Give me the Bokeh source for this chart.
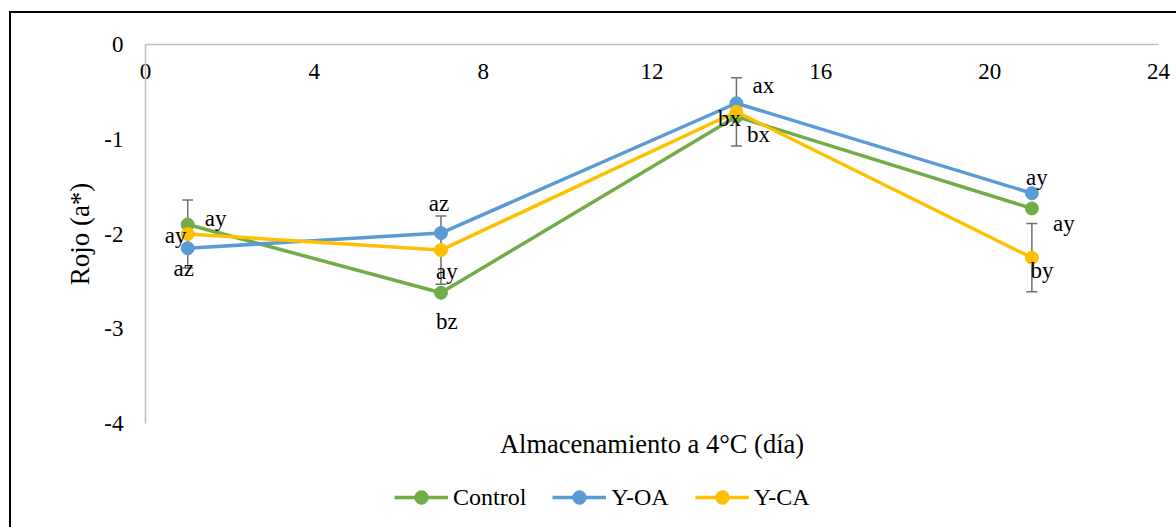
from bokeh.plotting import figure
from bokeh.layouts import column
from bokeh.models import (Range1d, LinearAxis, FixedTicker, Whisker, ColumnDataSource,
                          Legend, LegendItem, Title, TeeHead)
from bokeh.core.properties import value
from bokeh.embed import file_html
from bokeh.resources import INLINE

# Storage days and a* (red) values per treatment
days = [1, 7, 14, 21]
control = [-1.90, -2.62, -0.76, -1.73]
y_oa = [-2.15, -1.99, -0.62, -1.57]
y_ca = [-2.00, -2.17, -0.71, -2.25]
y_ca_err = [0.36, 0.36, 0.36, 0.36]

# Significance letters per treatment and day
control_letters = ["ay", "bz", "bx", "ay"]
y_oa_letters = ["az", "az", "ax", "ay"]
y_ca_letters = ["ay", "ay", "bx", "by"]

x_ticks = [0, 4, 8, 12, 16, 20, 24]
y_ticks = [0, -1, -2, -3, -4]
y_tick_labels = ["0", "-1", "-2", "-3", "-4"]

# Letter placement around each marker (screen pixels)
control_dx = [28, 6, 22, 32]
control_dy = [-6, 29, 18, 15]
y_oa_dx = [-4, -2, 27, 5]
y_oa_dy = [20, -30, -18, -16]
y_ca_dx = [-12, 6, -7, 10]
y_ca_dy = [1, 21, 7, 13]

FONT = "Liberation Serif"
QFONT = "'Liberation Serif'"
GREEN, BLUE, YELLOW = "#70AD47", "#5B9BD5", "#FFC000"

# page offset of the chart box (its black left/top edges)
OX, OY = 9, 11
W = 1176 - OX
MAIN_H = 470 - OY
LEG_H = 527 - 470

p = figure(width=W, height=MAIN_H, output_backend="svg", toolbar_location=None,
           x_range=Range1d(0, 24), y_range=Range1d(-4, 0),
           x_axis_type=None, y_axis_type=None,
           min_border_left=145 - OX, min_border_right=18,
           min_border_top=44 - OY, min_border_bottom=MAIN_H - (423 - OY))
p.outline_line_color = None
p.background_fill_color = "white"
p.border_fill_alpha = 0

# x axis sits on the y = 0 line, labels hang inside the plot area
xaxis = LinearAxis(ticker=FixedTicker(ticks=x_ticks),
                   axis_line_color="#BFBFBF", axis_line_width=1.5,
                   major_tick_line_color=None, minor_tick_line_color=None,
                   major_label_standoff=-40,
                   major_label_text_font=QFONT, major_label_text_font_size="23px",
                   major_label_text_color="black")
p.add_layout(xaxis, "above")

yaxis = LinearAxis(ticker=FixedTicker(ticks=y_ticks),
                   major_label_overrides={t: s for t, s in zip(y_ticks, y_tick_labels)},
                   axis_line_color="#BFBFBF", axis_line_width=1.5,
                   major_tick_line_color=None, minor_tick_line_color=None,
                   major_label_standoff=16,
                   major_label_text_font=QFONT, major_label_text_font_size="23px",
                   major_label_text_color="black",
                   axis_label="Rojo (a*)", axis_label_standoff=6,
                   axis_label_text_font=QFONT, axis_label_text_font_size="27px",
                   axis_label_text_font_style="normal", axis_label_text_color="black")
p.add_layout(yaxis, "left")

# Error bars for Y-CA
err_src = ColumnDataSource(data=dict(
    x=days,
    upper=[v + e for v, e in zip(y_ca, y_ca_err)],
    lower=[v - e for v, e in zip(y_ca, y_ca_err)],
))
whisk = Whisker(source=err_src, base="x", upper="upper", lower="lower",
                line_color="#707070", line_width=1.5,
                upper_head=TeeHead(size=11, line_color="#707070", line_width=1.5),
                lower_head=TeeHead(size=11, line_color="#707070", line_width=1.5),
                level="underlay")
p.add_layout(whisk)

series = [
    ("Control", control, GREEN, control_letters, control_dx, control_dy),
    ("Y-OA", y_oa, BLUE, y_oa_letters, y_oa_dx, y_oa_dy),
    ("Y-CA", y_ca, YELLOW, y_ca_letters, y_ca_dx, y_ca_dy),
]

sources = []
for name, vals, color, letters, dx, dy in series:
    src = ColumnDataSource(data=dict(x=days, y=vals))
    sources.append(src)
    p.line("x", "y", source=src, line_color=color, line_width=3.5)
    p.scatter("x", "y", source=src, size=13, fill_color=color, line_color=color)

for name, vals, color, letters, dx, dy in series:
    lsrc = ColumnDataSource(data=dict(x=days, y=vals, t=letters, dx=dx, dy=dy))
    p.text("x", "y", text="t", x_offset="dx", y_offset="dy", source=lsrc,
           text_font=value(FONT), text_font_size="23px", text_color="black",
           text_align="center", text_baseline="middle")

xtitle = Title(text="Almacenamiento a 4°C (día)", align="center", standoff=7,
               text_font=FONT, text_font_size="26.5px", text_font_style="normal",
               text_color="black")
p.add_layout(xtitle, "below")

# Legend strip under the chart: key renderers share the series data but stay hidden
pl = figure(width=W, height=LEG_H, output_backend="svg", toolbar_location=None,
            x_range=Range1d(0, 24), y_range=Range1d(-4, 0),
            x_axis_type=None, y_axis_type=None,
            min_border_left=0, min_border_right=0, min_border_top=0, min_border_bottom=0)
pl.outline_line_color = None
pl.grid.visible = False
pl.background_fill_alpha = 0
pl.border_fill_alpha = 0

items = []
for (name, vals, color, letters, dx, dy), src in zip(series, sources):
    ln = pl.line("x", "y", source=src, line_color=color, line_width=3.5, visible=False)
    sc = pl.scatter("x", "y", source=src, size=13, fill_color=color, line_color=color,
                    visible=False)
    items.append(LegendItem(label=name, renderers=[ln, sc]))

legend = Legend(items=items, orientation="horizontal", location=(394 - 145, 527 - 514),
                glyph_width=54, glyph_height=34, label_standoff=5, spacing=26,
                padding=0, margin=0, border_line_color=None, background_fill_alpha=0,
                inactive_fill_alpha=0,
                label_text_font=QFONT, label_text_font_size="24px",
                label_text_color="black")
pl.add_layout(legend)

layout = column(p, pl, spacing=0)
layout.styles = {"margin-left": f"{OX}px", "margin-top": f"{OY}px",
                 "box-shadow": "inset 2px 2px 0 0 black"}

open("out.html", "w").write(file_html(layout, INLINE))
